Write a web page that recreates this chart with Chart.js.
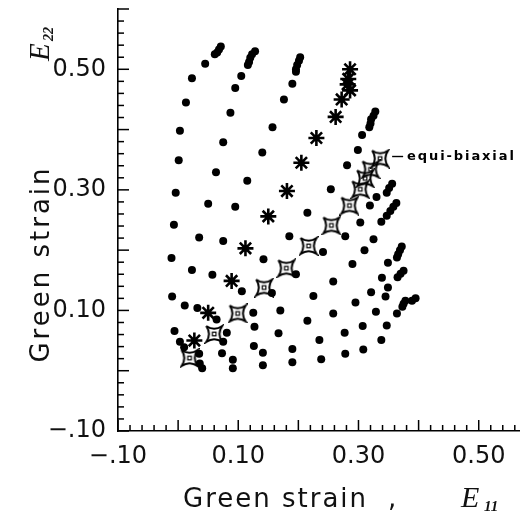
<!DOCTYPE html>
<html><head><meta charset="utf-8">
<script src="https://cdn.jsdelivr.net/npm/chart.js@4/dist/chart.umd.min.js"></script>
<style>html,body{margin:0;padding:0;background:#fff}canvas{display:block}</style>
</head><body>
<canvas id="c" width="521" height="518"></canvas>
<script>
// ---- axis ticks ----
const xTicks = [-0.10, 0.10, 0.30, 0.50];
const xTickLabels = ['\u2212.10', '0.10', '0.30', '0.50'];
const yTicks = [-0.10, 0.10, 0.30, 0.50];
const yTickLabels = ['\u2212.10', '0.10', '0.30', '0.50'];

// ---- measured points (E11, E22) ----
const dotsX = [0.071,0.068,0.065,0.061, 0.128,0.123,0.120,0.118,0.116, 0.203,0.201,0.198,0.196,0.196,
  0.045,0.105,0.023,0.190,0.095,0.176,0.013, 0.328,0.325,0.321,0.320,0.318,
  0.087,0.157,0.003,0.306,0.075,0.299,0.140,0.001,0.281,0.063,0.115,
  0.356,0.351,0.347, 0.254,-0.004,0.330,0.050, 0.363,0.358,0.353,0.347,
  0.095,0.319,0.215,0.338,0.303,-0.007,0.185,0.278,0.035,0.325,0.075,
  0.372,0.369,0.366,0.364, 0.310,0.241,-0.011,0.142,0.290,0.349,0.023,
  0.375,0.370,0.365, 0.057,0.196,0.339,0.258,0.349,0.106,0.156,0.321,0.225,0.345,-0.010,
  0.395,0.389, 0.378,0.375,0.373, 0.295,0.011,0.032,0.170,0.125,0.258,0.329,0.364,
  0.064,0.215,0.307,0.347,0.127,-0.006,0.081,0.167,0.277,0.235,0.338,
  0.003,0.075,0.010,0.126,0.190,0.308,0.035,0.073,0.141,0.278,0.091,0.238,0.190,0.036,0.141,0.040,0.091];
const dotsY = [0.538,0.533,0.528,0.525, 0.530,0.525,0.519,0.512,0.507, 0.520,0.514,0.507,0.500,0.496,
  0.509,0.489,0.485,0.476,0.469,0.450,0.445, 0.430,0.423,0.417,0.410,0.404,
  0.428,0.404,0.398,0.391,0.379,0.366,0.362,0.349,0.341,0.329,0.315,
  0.310,0.303,0.295, 0.301,0.295,0.288,0.277, 0.278,0.272,0.265,0.257,
  0.272,0.274,0.262,0.247,0.246,0.242,0.223,0.223,0.221,0.218,0.215,
  0.206,0.200,0.193,0.188, 0.200,0.197,0.187,0.185,0.177,0.179,0.167,
  0.166,0.161,0.155, 0.159,0.160,0.154,0.148,0.138,0.132,0.129,0.130,0.124,0.123,0.123,
  0.120,0.116, 0.116,0.111,0.106, 0.113,0.108,0.104,0.100,0.096,0.095,0.098,0.095,
  0.085,0.083,0.074,0.075,0.073,0.066,0.063,0.062,0.063,0.051,0.051,
  0.048,0.048,0.039,0.041,0.036,0.035,0.028,0.029,0.030,0.028,0.018,0.019,0.014,0.012,0.009,0.004,0.004];
const starX = [0.286,0.283,0.282,0.286,0.272,0.262,0.230,0.205,0.181,0.150,0.112,0.089,0.050,0.027];
const starY = [0.500,0.484,0.475,0.465,0.450,0.421,0.386,0.345,0.298,0.256,0.203,0.149,0.096,0.050];
const equiX = [0.336,0.320,0.311,0.303,0.285,0.255,0.217,0.180,0.143,0.099,0.060,0.019];
const equiY = [0.352,0.334,0.319,0.301,0.274,0.241,0.207,0.170,0.138,0.095,0.061,0.021];
const annotationText = 'equi-biaxial';

const pts = (xs, ys) => xs.map((x, i) => ({x, y: ys[i]}));

// equi-biaxial marker: concave 4-point star with small centre square
const equiMarker = (() => {
  const c = document.createElement('canvas'); c.width = 20; c.height = 20;
  const g = c.getContext('2d'); g.translate(10, 10);
  g.strokeStyle = '#000'; g.lineWidth = 2;
  g.lineJoin = 'miter';
  g.beginPath();
  g.moveTo(-8, -8);
  g.quadraticCurveTo(0, -2.5, 8, -8);
  g.quadraticCurveTo(2.5, 0, 8, 8);
  g.quadraticCurveTo(0, 2.5, -8, 8);
  g.quadraticCurveTo(-2.5, 0, -8, -8);
  g.stroke();
  g.lineWidth = 1.2; g.strokeRect(-1.8, -1.8, 3.6, 3.6);
  return c;
})();

const FONT = '"DejaVu Sans", sans-serif';

const decor = {
  id: 'decor',
  afterDraw(chart) {
    const ctx = chart.ctx, xs = chart.scales.x, ys = chart.scales.y, a = chart.chartArea;
    ctx.save();
    ctx.strokeStyle = '#000'; ctx.lineWidth = 1.5;
    for (let i = 0; ; i++) {
      const v = -0.10 + i * 0.02; if (v > xs.max + 1e-9) break;
      const p = xs.getPixelForValue(v), len = (i % 5 === 0) ? 11 : 6;
      ctx.beginPath(); ctx.moveTo(p, a.bottom); ctx.lineTo(p, a.bottom - len); ctx.stroke();
    }
    for (let i = 0; ; i++) {
      const v = -0.10 + i * 0.02; if (v > ys.max + 1e-9) break;
      const p = ys.getPixelForValue(v), len = (i % 5 === 0) ? 11 : 6;
      ctx.beginPath(); ctx.moveTo(a.left, p); ctx.lineTo(a.left + len, p); ctx.stroke();
    }
    // annotation for equi-biaxial
    const lx = xs.getPixelForValue(equiX[0]), ly = ys.getPixelForValue(equiY[0]);
    ctx.lineWidth = 1.4;
    ctx.beginPath(); ctx.moveTo(lx + 12, ly - 2); ctx.lineTo(lx + 23, ly - 2); ctx.stroke();
    ctx.fillStyle = '#000';
    ctx.font = 'bold 13px ' + FONT; ctx.textBaseline = 'middle'; ctx.textAlign = 'left';
    ctx.letterSpacing = '1.9px';
    ctx.fillText(annotationText, lx + 27, ly - 2);
    ctx.letterSpacing = '0px';
    // x title
    ctx.fillStyle = '#111';
    ctx.font = '26px ' + FONT; ctx.textBaseline = 'alphabetic';
    ctx.letterSpacing = '2px';
    ctx.fillText('Green strain', 183, 507);
    ctx.fillText(',', 388, 507);
    ctx.letterSpacing = '0px';
    ctx.font = 'italic 30px "Liberation Serif", serif';
    ctx.fillText('E', 461, 507);
    ctx.font = 'bold italic 15px "Liberation Serif", serif';
    ctx.fillText('11', 484, 511);
    // y title (rotated)
    ctx.save();
    ctx.translate(49, 0); ctx.rotate(-Math.PI / 2);
    ctx.font = '26px ' + FONT; ctx.textAlign = 'center';
    ctx.letterSpacing = '3px';
    ctx.fillText('Green strain', -264, 0);
    ctx.letterSpacing = '0px';
    ctx.textAlign = 'left';
    ctx.font = 'italic 29px "Liberation Serif", serif';
    ctx.fillText('E', -61, 0);
    ctx.font = 'bold italic 14px "Liberation Serif", serif';
    ctx.fillText('22', -41, 4);
    ctx.restore();
    ctx.restore();
  }
};

new Chart(document.getElementById('c'), {
  type: 'scatter',
  data: {
    datasets: [
      { label: 'data', data: pts(dotsX, dotsY), pointStyle: 'circle', pointRadius: 4,
        backgroundColor: '#000', borderWidth: 0 },
      { label: 'asterisk', data: pts(starX, starY), pointStyle: 'star', pointRadius: 8,
        borderColor: '#000', borderWidth: 2.6, backgroundColor: '#000' },
      { label: 'equi-biaxial', data: pts(equiX, equiY), pointStyle: equiMarker,
        pointRadius: 10 }
    ]
  },
  options: {
    responsive: false, animation: false, events: [],
    layout: { autoPadding: false, padding: { top: 9, right: 2, left: 0, bottom: 0 } },
    plugins: { legend: { display: false }, tooltip: { enabled: false } },
    scales: {
      x: {
        type: 'linear', min: -0.10, max: 0.567,
        afterBuildTicks: s => { s.ticks = xTicks.map(v => ({ value: v })); },
        afterFit: s => { s.height = 87; s.paddingLeft = 0; s.paddingRight = 0; },
        grid: { display: false, drawTicks: false },
        border: { display: true, color: '#000', width: 1.6 },
        ticks: { color: '#111', font: { family: 'DejaVu Sans', size: 24 }, padding: 11,
          maxRotation: 0, autoSkip: false,
          callback: (v, i) => xTickLabels[i] }
      },
      y: {
        type: 'linear', min: -0.10, max: 0.60,
        afterBuildTicks: s => { s.ticks = yTicks.map(v => ({ value: v })); },
        afterFit: s => { s.width = 118; s.paddingTop = 0; s.paddingBottom = 0; },
        grid: { display: false, drawTicks: false },
        border: { display: true, color: '#000', width: 1.6 },
        ticks: { color: '#111', font: { family: 'DejaVu Sans', size: 24 }, padding: 12,
          autoSkip: false,
          callback: (v, i) => yTickLabels[i] }
      }
    }
  },
  plugins: [decor]
});
</script>
</body></html>
